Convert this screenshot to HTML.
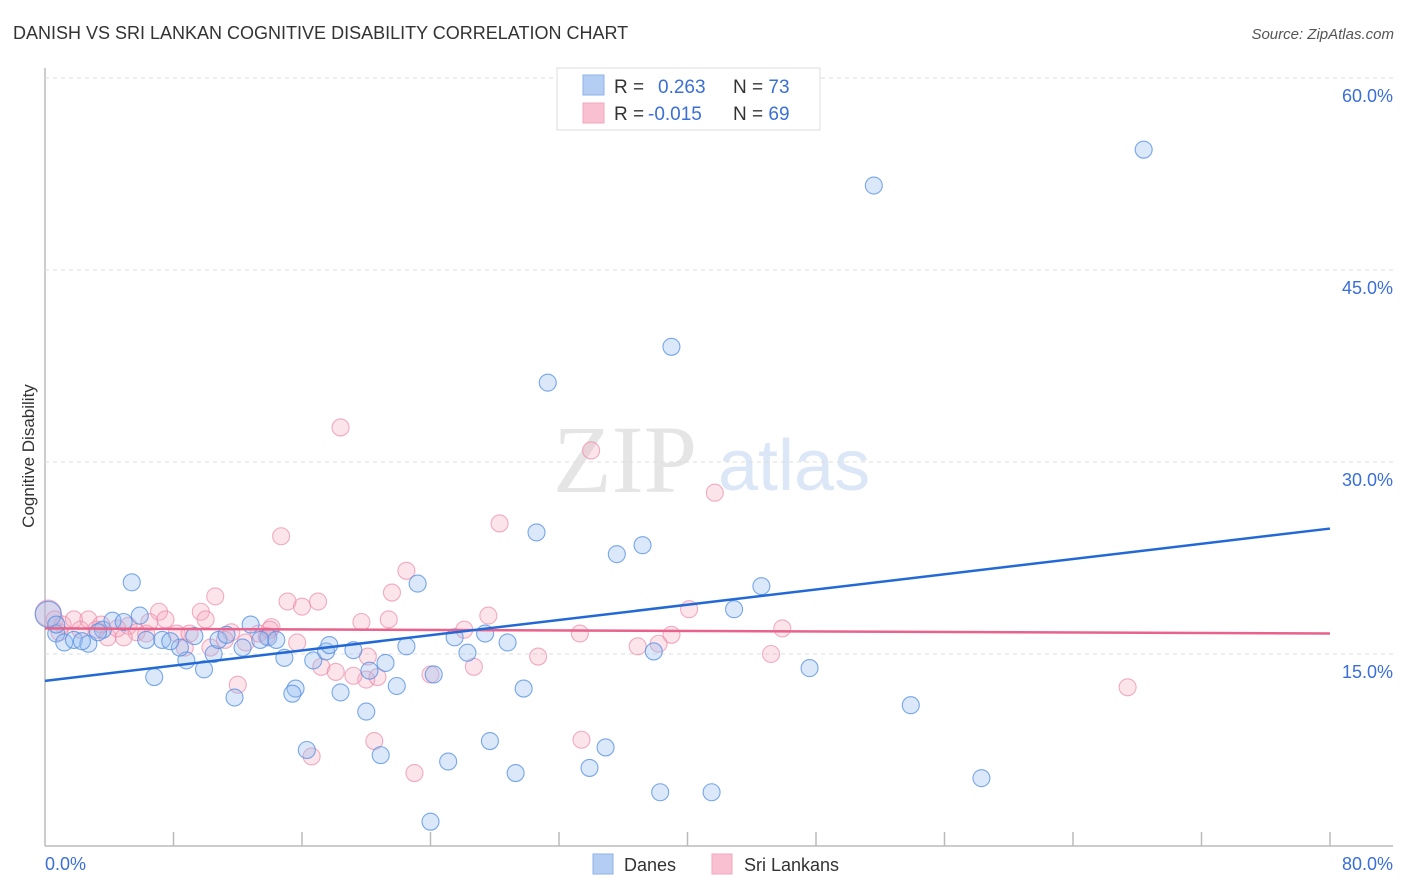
<!DOCTYPE html>
<html><head><meta charset="utf-8"><style>
body{margin:0;background:#fff;font-family:"Liberation Sans",sans-serif;}
svg{display:block}
</style></head><body>
<svg id="chart" width="1406" height="892">
<text x="13" y="39" font-size="18" fill="#333">DANISH VS SRI LANKAN COGNITIVE DISABILITY CORRELATION CHART</text>
<text x="1394" y="39" font-size="15" fill="#555" font-style="italic" text-anchor="end">Source: ZipAtlas.com</text>
<g opacity="0.5">
<text x="553" y="492" font-size="96" font-family="Liberation Serif,serif" fill="#ccc">ZIP</text>
<text x="718" y="490" font-size="72" fill="#b8cff0">atlas</text>
</g>
<text transform="translate(34,456) rotate(-90)" font-size="17" fill="#333" text-anchor="middle">Cognitive Disability</text>
<g id="grid"></g>
<g id="marks"></g>
<g>
<rect x="557" y="68" width="263" height="62" fill="#fff" stroke="#ddd"/>
<rect x="583" y="75" width="21" height="20" fill="#b3cdf3" stroke="#8fb2e8"/>
<rect x="583" y="103" width="21" height="20" fill="#f8c0d0" stroke="#f0a8bd"/>
<text x="614" y="93" font-size="19" fill="#333">R = <tspan x="658" fill="#3a6fd8">0.263</tspan><tspan x="733" fill="#333">N = </tspan><tspan fill="#3a6fd8">73</tspan></text>
<text x="614" y="120" font-size="19" fill="#333">R = <tspan x="648" fill="#3a6fd8">-0.015</tspan><tspan x="733" fill="#333">N = </tspan><tspan fill="#3a6fd8">69</tspan></text>
</g>
<g>
<rect x="593" y="854" width="20" height="20" fill="#b3cdf3" stroke="#8fb2e8"/>
<text x="624" y="871" font-size="18" fill="#333">Danes</text>
<rect x="712" y="854" width="20" height="20" fill="#f8c0d0" stroke="#f0a8bd"/>
<text x="744" y="871" font-size="18" fill="#333">Sri Lankans</text>
</g>
</svg>
<script>
const yTicks=[15,30,45,60];
const xTickCount=10;
const xMax=80;
const danesX=[68.4,51.6,39.0,31.3,30.6,37.2,35.6,44.6,23.2,5.4,42.9,47.6,53.9,58.3,41.5,38.3,33.9,34.9,29.3,27.7,25.1,24.0,20.9,16.3,20.0,18.4,15.6,15.4,11.8,9.9,6.8,8.8,8.4,10.5,12.3,13.9,14.9,16.7,17.5,17.7,19.2,20.2,21.2,21.9,22.5,24.2,25.5,26.3,27.4,28.8,29.8,37.9,0.2,0.7,1.2,1.8,2.7,3.6,4.2,4.9,5.9,6.3,7.3,7.8,9.3,10.8,11.3,12.8,13.4,14.4,0.7,2.3,3.3];
const danesY=[54.4,51.6,39.0,36.2,24.5,23.5,22.8,20.3,20.5,20.6,18.5,13.9,11.0,5.3,4.2,4.2,6.1,7.7,5.7,8.2,6.6,1.9,7.1,7.5,10.5,12.0,12.3,11.9,11.6,13.8,13.2,14.5,15.5,15.0,15.5,16.3,14.7,14.5,15.2,15.7,15.3,13.7,14.3,12.5,15.6,13.4,16.3,15.1,16.6,15.9,12.3,15.2,18.1,16.6,15.9,16.1,15.8,16.9,17.6,17.5,18.0,16.1,16.1,16.0,16.4,16.1,16.5,17.3,16.1,16.1,17.3,16.0,16.7];
const sriX=[18.4,34.0,41.7,28.3,14.7,22.5,21.6,17.0,15.1,16.0,10.6,7.1,9.7,7.5,5.2,14.1,19.7,21.4,27.6,40.1,45.9,26.1,33.3,39.0,38.2,36.9,11.6,12.5,15.7,17.2,18.1,20.0,19.2,20.7,20.1,24.0,26.7,30.7,45.2,67.4,12.0,20.5,33.4,16.6,23.0,0.2,0.6,1.1,1.8,2.7,3.2,3.9,4.5,5.7,6.3,8.2,9.0,10.3,11.2,13.3,13.8,8.7,0.9,2.2,10.0,6.5,4.9,14.0,3.5];
const sriY=[32.7,30.9,27.6,25.2,24.2,21.5,19.8,19.1,19.1,18.7,19.5,18.3,18.3,17.7,17.2,17.1,17.5,17.7,18.0,18.5,17.0,16.9,16.6,16.5,15.8,15.6,16.7,15.9,15.9,14.0,13.6,13.0,13.3,13.2,14.8,13.4,14.0,14.8,15.0,12.4,12.6,8.2,8.3,7.0,5.7,18.2,17.7,17.3,17.7,17.7,16.9,16.3,17.0,16.7,16.6,16.6,16.6,15.5,16.1,16.6,16.4,15.5,16.7,16.9,17.7,17.5,16.3,16.9,17.3];
const danesTrend=[12.9,24.8];
const sriTrend=[17.0,16.6];

const NS='http://www.w3.org/2000/svg';
const X0=45,X1=1330,Y0=846,PXY=12.8;
const xs=v=>X0+(X1-X0)*v/xMax;
const ys=v=>Y0-v*PXY;
function mk(tag,attrs,parent){const e=document.createElementNS(NS,tag);for(const k in attrs)e.setAttribute(k,attrs[k]);parent.appendChild(e);return e;}
const grid=document.getElementById('grid'),marks=document.getElementById('marks');
let a=mk('line',{x1:X0,y1:68,x2:X0,y2:Y0,stroke:'#bbb','stroke-width':1.5},grid);


a=mk('line',{x1:X0,y1:Y0,x2:1393,y2:Y0,stroke:'#bbb','stroke-width':1.5},grid);


yTicks.forEach(t=>{
 const g=mk('line',{x1:X0,y1:ys(t),x2:1393,y2:ys(t),stroke:'#ddd','stroke-dasharray':'4,4'},grid);
 
 
 const l=mk('text',{x:1393,y:ys(t)+24,'font-size':18,fill:'#3a6fd8','text-anchor':'end'},grid);
 l.textContent=t.toFixed(1)+'%';
 
 
});
for(let i=1;i<=xTickCount;i++){
 const t=mk('line',{x1:xs(i*xMax/xTickCount),y1:Y0-14,x2:xs(i*xMax/xTickCount),y2:Y0,stroke:'#bbb','stroke-width':1.5},grid);
 
 
}
let xl=mk('text',{x:X0,y:870,'font-size':18,fill:'#3a6fd8'},grid);xl.textContent='0.0%';


xl=mk('text',{x:1393,y:870,'font-size':18,fill:'#3a6fd8','text-anchor':'end'},grid);xl.textContent='80.0%';



function pts(X,Y,fill,stroke,name){
 X.forEach((x,i)=>{
  const c=mk('circle',{cx:xs(x),cy:ys(Y[i]),r:i===(name==='dane-point'?52:45)?13:8.5,fill:fill,stroke:stroke,'stroke-width':1.1},marks);
  
  
 });
}
pts(sriX,sriY,'rgba(245,165,190,0.3)','rgba(235,140,170,0.7)','sri-lankan-point');
pts(danesX,danesY,'rgba(150,190,240,0.35)','rgba(80,140,225,0.75)','dane-point');
let tl=mk('line',{x1:xs(0),y1:ys(sriTrend[0]),x2:xs(xMax),y2:ys(sriTrend[1]),stroke:'#e8628c','stroke-width':2.5},marks);


tl=mk('line',{x1:xs(0),y1:ys(danesTrend[0]),x2:xs(xMax),y2:ys(danesTrend[1]),stroke:'#2369d6','stroke-width':2.5},marks);


</script>
</body></html>
